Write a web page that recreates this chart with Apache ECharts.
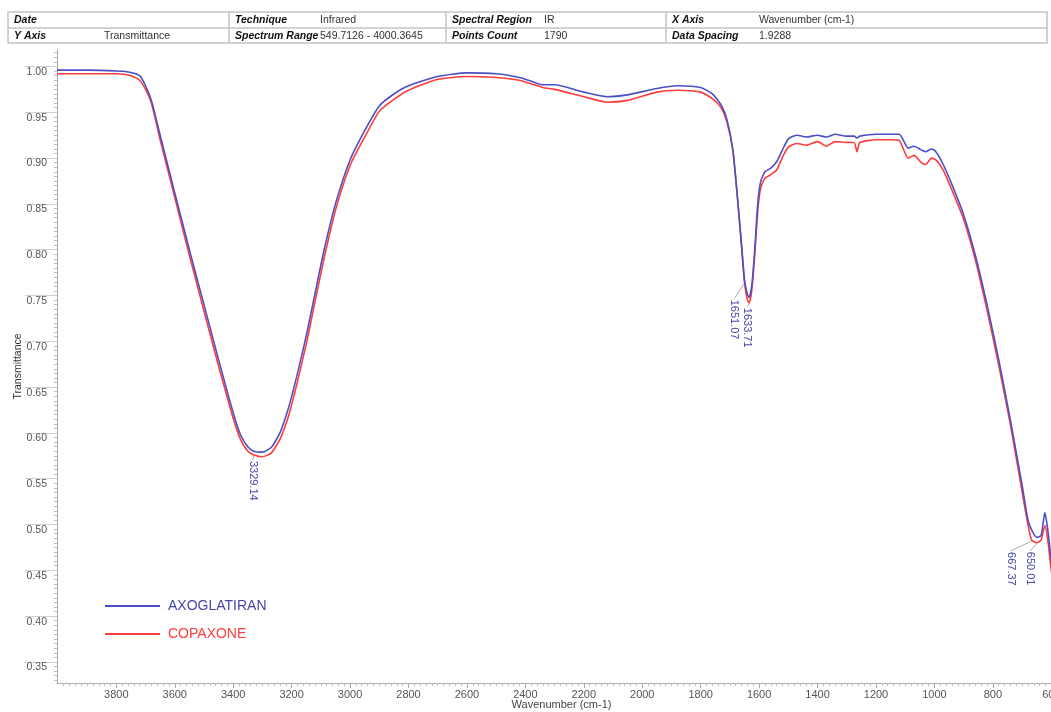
<!DOCTYPE html>
<html><head><meta charset="utf-8">
<script src="https://cdn.jsdelivr.net/npm/echarts@6/dist/echarts.min.js"></script>
<style>html,body{margin:0;padding:0;background:#fff}#c{width:1051px;height:712px}</style>
</head><body><div id="c"></div>
<script>
// ---- data ----
const wavenumbers = [4003,3900,3800,3750,3720,3700,3680,3650,3600,3550,3500,3450,3400,3375,3350,3329,3300,3270,3240,3210,3180,3150,3120,3090,3050,3000,2950,2900,2850,2800,2700,2600,2500,2420,2380,2340,2300,2200,2120,2050,1950,1880,1800,1760,1730,1710,1690,1675,1660,1650,1640,1634,1625,1615,1605,1595,1580,1560,1540,1520,1500,1470,1440,1400,1370,1340,1300,1275,1265,1255,1200,1150,1120,1090,1070,1045,1030,1010,995,970,940,900,860,820,780,740,700,680,667,650,635,622,612,600,580,550];
const axoglatiran = [0.996,0.996,0.995,0.9935,0.990,0.979,0.963,0.925,0.862,0.800,0.740,0.680,0.622,0.598,0.585,0.580,0.579,0.584,0.600,0.628,0.665,0.706,0.752,0.798,0.850,0.898,0.930,0.957,0.970,0.979,0.989,0.993,0.992,0.988,0.984,0.980,0.980,0.972,0.967,0.969,0.976,0.979,0.977,0.970,0.958,0.942,0.909,0.860,0.805,0.767,0.751,0.748,0.761,0.800,0.849,0.874,0.885,0.889,0.896,0.909,0.921,0.925,0.923,0.925,0.923,0.926,0.924,0.924,0.922,0.924,0.926,0.926,0.926,0.911,0.913,0.909,0.907,0.910,0.907,0.893,0.871,0.838,0.794,0.740,0.680,0.614,0.543,0.505,0.494,0.486,0.488,0.513,0.494,0.461,0.418,0.400];
const copaxone = [0.992,0.992,0.992,0.990,0.985,0.975,0.960,0.920,0.857,0.794,0.733,0.673,0.616,0.593,0.580,0.576,0.574,0.578,0.593,0.619,0.656,0.697,0.743,0.789,0.843,0.892,0.923,0.951,0.964,0.974,0.986,0.989,0.988,0.985,0.981,0.977,0.975,0.967,0.961,0.963,0.972,0.974,0.972,0.965,0.955,0.939,0.909,0.860,0.803,0.764,0.745,0.742,0.756,0.794,0.841,0.867,0.878,0.882,0.887,0.901,0.912,0.916,0.914,0.918,0.913,0.918,0.917,0.917,0.907,0.917,0.920,0.920,0.919,0.900,0.903,0.895,0.893,0.900,0.898,0.887,0.865,0.833,0.789,0.734,0.674,0.609,0.536,0.500,0.483,0.480,0.483,0.499,0.483,0.450,0.410,0.390];
const seriesNames = ['AXOGLATIRAN','COPAXONE'];
const xTicks = [3800,3600,3400,3200,3000,2800,2600,2400,2200,2000,1800,1600,1400,1200,1000,800,600];
const yTicks = [0.35,0.40,0.45,0.50,0.55,0.60,0.65,0.70,0.75,0.80,0.85,0.90,0.95,1.00];
const peakWavenumbers = [3329.14,1651.07,1633.71,667.37,650.01];
const peakValues = [0.576,0.764,0.742,0.483,0.480];
const peakLabels = ['3329.14','1651.07','1633.71','667.37','650.01'];
const headerLabels = [['Date','Technique','Spectral Region','X Axis'],['Y Axis','Spectrum Range','Points Count','Data Spacing']];
const headerValues = [['','Infrared','IR','Wavenumber (cm-1)'],['Transmittance','549.7126 - 4000.3645','1790','1.9288']];

// ---- styling / layout ----
const FONT = '"Liberation Sans", Arial, sans-serif';
const BLUE = '#4b4fc6', RED = '#ff3b3b', LABEL_BLUE = '#4646a8';
const xMin = 549.7126, xMax = 4003, yMin = 0.327, yMax = 1.018;
const yMinor = [], xMinor = [];
for (let k = 66; k <= 203; k++) { if (k % 10 !== 0) yMinor.push(+(k * 0.005).toFixed(3)); }
for (let w = 560; w <= 3990; w += 20) { if (w % 200 !== 0) xMinor.push(w); }

const chart = echarts.init(document.getElementById('c'), null, {renderer: 'canvas'});

// header table graphics
const colX = [8, 229, 446, 666, 1047];
const valX = [104, 320, 544, 759];
const rowY = [12, 28, 43];
const g = [];
const lineC = '#c4c4c4';
g.push({type:'rect', shape:{x:colX[0], y:rowY[0], width:colX[4]-colX[0], height:rowY[2]-rowY[0]}, style:{fill:null, stroke:lineC, lineWidth:1.5}, silent:true});
g.push({type:'line', shape:{x1:colX[0], y1:rowY[1], x2:colX[4], y2:rowY[1]}, style:{stroke:lineC, lineWidth:1.5}, silent:true});
for (let c = 1; c < 4; c++) g.push({type:'line', shape:{x1:colX[c], y1:rowY[0], x2:colX[c], y2:rowY[2]}, style:{stroke:lineC, lineWidth:1.5}, silent:true});
for (let r = 0; r < 2; r++) {
  const cy = (rowY[r] + rowY[r+1]) / 2 + 0.5;
  for (let c = 0; c < 4; c++) {
    g.push({type:'text', x: colX[c] + 6, y: cy, style:{text: headerLabels[r][c], font:'italic bold 10.5px ' + FONT, fill:'#111', verticalAlign:'middle'}, silent:true});
    if (headerValues[r][c]) g.push({type:'text', x: valX[c], y: cy, style:{text: headerValues[r][c], font:'10.5px ' + FONT, fill:'#333', verticalAlign:'middle'}, silent:true});
  }
}

const mkSeries = (name, vals, color, z) => ({
  type:'line', name, data: wavenumbers.map((w, i) => [w, vals[i]]),
  symbol:'none', smooth:0.2, z,
  lineStyle:{color, width:1.6}, itemStyle:{color}
});

chart.setOption({
  animation:false,
  backgroundColor:'#fff',
  textStyle:{fontFamily:FONT},
  grid:{left:57, right:-15, top:50, bottom:29, containLabel:false, outerBoundsMode:'none'},
  legend:{
    orient:'vertical', left:105, top:599, padding:0, icon:'rect', itemWidth:55, itemHeight:2, itemGap:14,
    data:[{name:seriesNames[0], textStyle:{color:LABEL_BLUE}}, {name:seriesNames[1], textStyle:{color:RED}}],
    textStyle:{fontSize:14, fontFamily:FONT, padding:[0,0,0,3]}
  },
  xAxis:[{
    type:'value', inverse:true, min:xMin, max:xMax, splitNumber:16,
    axisLine:{show:true, lineStyle:{color:'#aaa', width:1}},
    axisTick:{show:true, length:5, customValues:xTicks, lineStyle:{color:'#aaa'}},
    axisLabel:{customValues:xTicks, formatter:v => String(v), fontSize:11, color:'#555', margin:6, fontFamily:FONT},
    splitLine:{show:false},
    name:'Wavenumber (cm-1)', nameLocation:'middle', nameGap:16, nameMoveOverlap:false,
    nameTextStyle:{fontSize:11, color:'#444', fontFamily:FONT}
  },{
    type:'value', inverse:true, min:xMin, max:xMax, position:'bottom', offset:0,
    axisLine:{show:false}, axisLabel:{show:false}, splitLine:{show:false},
    axisTick:{show:true, length:3, customValues:xMinor, lineStyle:{color:'#bbb'}}
  }],
  yAxis:[{
    type:'value', min:yMin, max:yMax, splitNumber:14,
    axisLine:{show:true, lineStyle:{color:'#aaa', width:1}},
    axisTick:{show:true, length:32, customValues:yTicks, lineStyle:{color:'#d0d0d0'}},
    axisLabel:{customValues:yTicks, formatter:v => v.toFixed(2), fontSize:10.5, color:'#555', margin:10, verticalAlign:'top', fontFamily:FONT},
    splitLine:{show:false},
    name:'Transmittance', nameLocation:'middle', nameGap:33, nameMoveOverlap:false,
    nameTextStyle:{fontSize:10.5, color:'#333', fontFamily:FONT}
  },{
    type:'value', min:yMin, max:yMax, position:'left', offset:0,
    axisLine:{show:false}, axisLabel:{show:false}, splitLine:{show:false},
    axisTick:{show:true, length:3, customValues:yMinor, lineStyle:{color:'#bbb'}}
  }],
  series:[mkSeries(seriesNames[1], copaxone, RED, 2), mkSeries(seriesNames[0], axoglatiran, BLUE, 3)],
  graphic:g
});

// peak annotations positioned through the chart's own scales
const labelOffsets = [[-1,6],[-10,17],[-2.5,5],[-21,12],[-6.5,9]];
const ann = [];
peakWavenumbers.forEach((w, i) => {
  const p = chart.convertToPixel({xAxisIndex:0, yAxisIndex:0}, [w, peakValues[i]]);
  const lx = p[0] + labelOffsets[i][0], ly = p[1] + labelOffsets[i][1];
  ann.push({type:'line', shape:{x1:p[0], y1:p[1]+1, x2:lx, y2:ly-1}, style:{stroke:'#aaa', lineWidth:1}, silent:true});
  ann.push({type:'text', x:lx, y:ly, rotation:-Math.PI/2,
    style:{text:peakLabels[i], font:'11px ' + FONT, fill:LABEL_BLUE, align:'left', verticalAlign:'middle'}, silent:true});
});
chart.setOption({graphic: g.concat(ann)});
</script></body></html>
